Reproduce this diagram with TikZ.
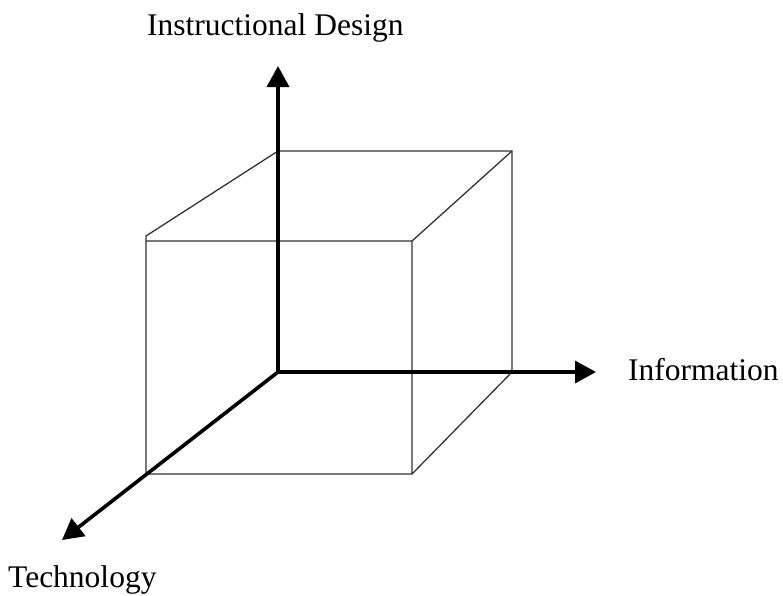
\documentclass[tikz,border=0pt]{standalone}
\usepackage{fontspec}
\setmainfont{Liberation Serif}
\usetikzlibrary{arrows.meta}
\begin{document}
\begin{tikzpicture}[x=1pt,y=-1pt,
  cubeline/.style={line width=1.3pt,draw=black!80},
  axisline/.style={line width=3.6pt,draw=black,-{Triangle[length=21pt,width=22pt]}},
  lbl/.style={font=\fontsize{31.5}{36}\selectfont,inner sep=0pt,anchor=base west}]
\useasboundingbox (0,0) rectangle (783,595);
% cube corners
\coordinate (A) at (146,241);
\coordinate (Aup) at (146,236);
\coordinate (B) at (412,241);
\coordinate (C) at (412,474);
\coordinate (D) at (146,474);
\coordinate (E) at (278,151);
\coordinate (F) at (512,151);
\coordinate (G) at (512,372);
% axes
\coordinate (O) at (278,372);
\coordinate (Y) at (278,66);
\coordinate (X) at (596,372);
\coordinate (Z) at (62,540);
% cube
\draw[cubeline] (B) -- (C) -- (D) -- (Aup) -- (E) -- (F) -- (G) -- (C);
\draw[cubeline] (A) -- (B) -- (F);
% axes
\draw[axisline] (O) -- (Y);
\draw[axisline] (O) -- (X);
\draw[axisline] (O) -- (Z);
% labels
\node[lbl] (ly) at (147,35) {Instructional Design};
\node[lbl] (lx) at (628,380) {Information};
\node[lbl] (lz) at (8,587) {Technology};
\end{tikzpicture}
\end{document}
